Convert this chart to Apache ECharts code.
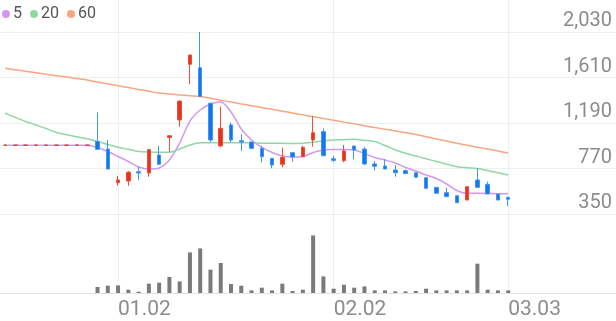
<!DOCTYPE html>
<html><head><meta charset="utf-8">
<script src="https://cdn.jsdelivr.net/npm/echarts@6/dist/echarts.min.js"></script>
<style>html,body{margin:0;padding:0;background:#fff}#c{width:616px;height:321px}</style>
</head><body><div id="c"></div>
<script>
const dates = ['12.15','12.16','12.17','12.18','12.19','12.22','12.23','12.24','12.26','12.29','12.30',
  '01.02','01.05','01.06','01.07','01.08','01.09','01.12','01.13','01.14','01.15','01.16','01.19','01.20','01.21','01.22','01.23','01.26','01.27','01.28','01.29','01.30',
  '02.02','02.03','02.04','02.05','02.06','02.09','02.10','02.11','02.12','02.13','02.19','02.20','02.23','02.24','02.25','02.26','02.27',
  '03.03','03.04','03.05','03.06','03.09','03.10','03.11','03.12','03.13','03.16','03.17'];
const labelDates = ['01.02','02.02','03.03'];
// [open, close, low, high]
const ohlc = [
  [985,985,985,985],[985,985,985,985],[985,985,985,985],[985,985,985,985],[985,985,985,985],
  [985,985,985,985],[985,985,985,985],[985,985,985,985],[985,985,985,985],
  [1020,947,945,1289],[950,765,763,1033],[639,664,611,701],[655,735,611,747],[740,728,664,787],
  [728,944,694,944],[895,809,809,980],[1056,1073,922,1073],[1218,1393,1156,1393],[1732,1818,1550,1818],
  [1700,1435,1430,2030],[1372,1033,1012,1380],[978,1141,970,1340],[1172,1033,1012,1196],[1027,1015,932,1086],
  [1015,956,950,1017],[956,879,827,980],[864,802,772,866],[809,873,780,962],[916,876,833,916],
  [879,966,879,980],[1033,1100,971,1255],[1110,888,888,1140],[860,845,830,885],[842,932,827,987],
  [978,941,855,978],[950,812,802,971],[812,790,750,839],[793,765,765,855],[756,731,694,802],
  [750,722,720,763],[731,689,689,731],[685,587,587,685],[596,541,541,596],[547,510,505,593],
  [519,454,454,519],[479,602,479,602],[664,596,596,772],[624,535,535,650],[535,479,479,535],
  [505,486,424,505]
];
const volumes = [0,0,0,0,0,0,0,0,0,
  60,73,76,33,13,93,103,160,116,406,446,233,300,90,73,26,53,26,93,20,33,
  576,166,43,83,53,66,26,26,16,16,20,43,26,26,26,26,293,33,26,26];
const ma5 = [985,985,985,985,985,985,985,985,985,964,
  927,881,835,784,765,775,848,1005,1208,1310,
  1365,1384,1292,1135,1033,964,918,885,876,881,
  918,941,945,945,941,908,872,848,821,779,
  747,710,678,627,567,541,541,540,536,540];
const ma20 = [1280,1241,1204,1172,1139,1102,1081,1063,1044,1020,
  992,967,947,928,922,920,920,950,987,1008,
  1008,1008,1008,1008,1006,1004,1003,1002,1001,1003,
  1013,1024,1033,1036,1039,1030,1019,982,941,910,
  885,860,835,810,787,777,770,751,730,710];
const ma60 = [1695,1681,1667,1654,1640,1627,1614,1600,1586,1568,
  1552,1534,1517,1500,1483,1466,1457,1449,1442,1435,
  1418,1400,1384,1366,1350,1333,1316,1299,1282,1265,
  1248,1232,1215,1198,1182,1165,1148,1133,1117,1101,
  1084,1064,1043,1023,1003,984,967,949,931,913];
const priceTicks = [350,770,1190,1610,2030];
const maNames = ['5','20','60'];
const maColors = ['#d596f2','#8fd8a3','#f8a582'];

const UP = '#e8321d', DOWN = '#1476ee', UP_EDGE = '#ed5035', DOWN_EDGE = '#4196f4';
const chart = echarts.init(document.getElementById('c'));
const isLabel = (i, v) => labelDates.indexOf(v) >= 0;
const maSeries = [ma5, ma20, ma60].map((d, k) => ({
  name: maNames[k], type: 'line', xAxisIndex: 0, yAxisIndex: 0, data: d,
  symbol: 'none', smooth: 0.3, z: 2, color: maColors[k],
  lineStyle: {width: 1.5, color: maColors[k]}, itemStyle: {color: maColors[k]}
}));
chart.setOption({
  animation: false,
  backgroundColor: '#fff',
  textStyle: {fontFamily: 'Roboto'},
  legend: {
    data: maNames, left: 0, top: 6, icon: 'circle', itemWidth: 8, itemHeight: 8, itemGap: 8,
    padding: [0,0,0,2], textStyle: {fontSize: 16, color: '#555', fontFamily: 'Roboto', padding: [0,0,0,-2]},
    selectedMode: false
  },
  grid: [
    {left: 0, right: 0, top: 32, height: 182},
    {left: 0, right: 0, top: 214, height: 79},
    {left: 0, right: 0, top: 0, height: 293}
  ],
  xAxis: [
    {type: 'category', gridIndex: 0, data: dates, boundaryGap: true,
     axisLine: {show: false}, axisTick: {show: false}, axisLabel: {show: false}, splitLine: {show: false}},
    {type: 'category', gridIndex: 1, data: dates, boundaryGap: true,
     axisLine: {show: true, lineStyle: {color: '#e3e3e3', width: 1}}, axisTick: {show: false},
     axisLabel: {show: false}, splitLine: {show: false}},
    {type: 'category', gridIndex: 2, data: dates, boundaryGap: true,
     axisLine: {show: false}, axisTick: {show: false},
     axisLabel: {show: true, interval: isLabel, align: 'left', margin: 6, fontSize: 21,
       color: '#8c8c8c', fontFamily: 'Roboto'},
     splitLine: {show: true, interval: isLabel, alignWithLabel: true, lineStyle: {color: '#efefef', width: 1}}}
  ],
  yAxis: [
    {type: 'value', gridIndex: 0, position: 'right', min: priceTicks[0], max: priceTicks[priceTicks.length-1],
     interval: priceTicks[1] - priceTicks[0], scale: true,
     axisLine: {show: false}, axisTick: {show: false},
     axisLabel: {inside: true, margin: 4, fontSize: 20, color: '#8c8c8c', fontFamily: 'Roboto',
       verticalAlign: 'bottom', padding: [0,0,1,0],
       formatter: v => v.toLocaleString('en-US')},
     splitLine: {show: true, lineStyle: {color: '#efefef', width: 1}}},
    {type: 'value', gridIndex: 1, min: 0, max: 790, show: false, splitLine: {show: false}},
    {type: 'value', gridIndex: 2, min: 0, max: 1, show: false, splitLine: {show: false}}
  ],
  series: [
    ...maSeries,
    {type: 'candlestick', xAxisIndex: 0, yAxisIndex: 0, data: ohlc, barWidth: 4, z: 3,
     itemStyle: {color: UP, color0: DOWN, borderColor: UP_EDGE, borderColor0: DOWN_EDGE, borderColorDoji: UP, borderWidth: 1}},
    {type: 'bar', xAxisIndex: 1, yAxisIndex: 1, data: volumes, barWidth: 4,
     itemStyle: {color: '#7a7a7a'}}
  ]
});
</script></body></html>
